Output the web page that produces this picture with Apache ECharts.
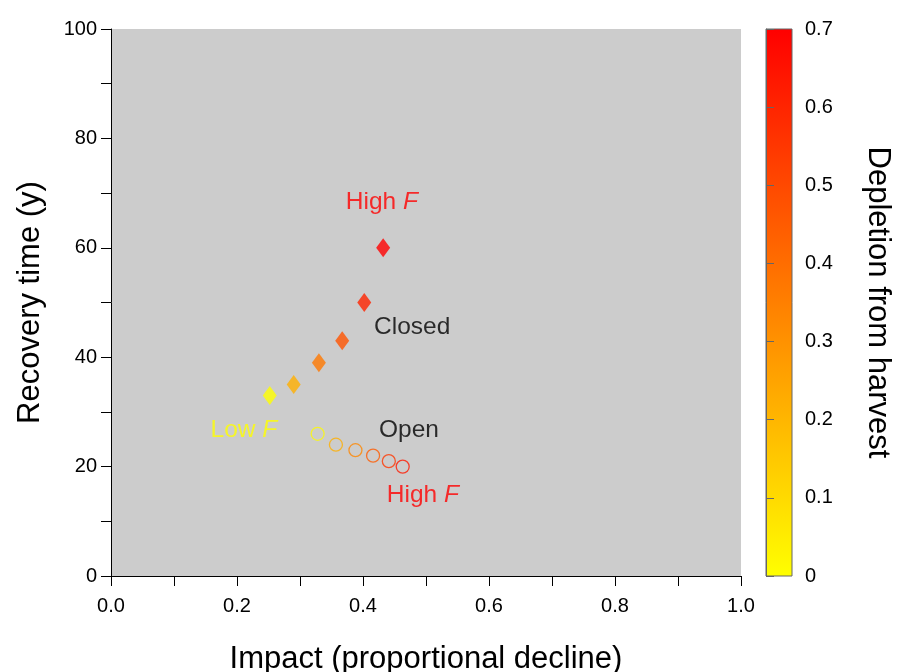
<!DOCTYPE html>
<html>
<head>
<meta charset="utf-8">
<title>Recovery time vs impact</title>
<script src="https://cdn.jsdelivr.net/npm/echarts@6/dist/echarts.min.js"></script>
<style>
  html, body { margin: 0; padding: 0; background: #ffffff; }
  #chart { width: 904px; height: 672px; }
</style>
</head>
<body>
<div id="chart"></div>
<script>
// Closed fishery: impact, recovery time and depletion along increasing F
const closedImpact    = [0.252, 0.290, 0.330, 0.367, 0.402, 0.432];
const closedRecovery  = [33, 35, 39, 43, 50, 60];
const closedDepletion = [0.00, 0.22, 0.37, 0.47, 0.60, 0.70];

// Open fishery
const openImpact    = [0.328, 0.357, 0.388, 0.416, 0.441, 0.463];
const openRecovery  = [26, 24, 23, 22, 21, 20];
const openDepletion = [0.01, 0.22, 0.33, 0.45, 0.55, 0.63];

// Axis ranges and ticks
const xTicks = [0, 0.2, 0.4, 0.6, 0.8, 1.0];
const yTicks = [0, 20, 40, 60, 80, 100];
const depletionTicks = [0, 0.1, 0.2, 0.3, 0.4, 0.5, 0.6, 0.7];
const depletionMax = 0.7;

// Text annotations: [x, y, plain text, italic text, colour]
const notes = [
  [0.430, 68.4, 'High ', 'F', '#ff0000'],
  [0.478, 45.5, 'Closed', '', '#000000'],
  [0.211, 26.7, 'Low ', 'F', '#ffff00'],
  [0.473, 26.7, 'Open', '', '#000000'],
  [0.495, 14.8, 'High ', 'F', '#ff0000']
];

const FONT = "'Liberation Sans', Arial, Helvetica, sans-serif";
const lowColor = '#ffff00';
const highColor = '#ff0000';

function depletionColor(v) {
  return echarts.color.lerp(Math.max(0, Math.min(1, v / depletionMax)), [lowColor, highColor]);
}

const closedData = closedImpact.map((x, i) => ({
  value: [x, closedRecovery[i]],
  itemStyle: { color: depletionColor(closedDepletion[i]) }
}));

const openData = openImpact.map((x, i) => ({
  value: [x, openRecovery[i]],
  itemStyle: {
    color: 'rgba(0,0,0,0)',
    borderColor: depletionColor(openDepletion[i]),
    borderWidth: 1.3
  }
}));

const noteData = notes.map(n => ({
  value: [n[0], n[1]],
  label: {
    formatter: n[3] ? '{n|' + n[2] + '}{i|' + n[3] + '}' : '{n|' + n[2] + '}',
    rich: {
      n: { color: n[4], fontSize: 24.5, fontFamily: FONT },
      i: { color: n[4], fontSize: 24.5, fontFamily: FONT, fontStyle: 'italic' }
    }
  }
}));

const tickFont = { fontSize: 20, color: '#000', fontFamily: FONT };
const titleFont = { fontSize: 31, color: '#000', fontFamily: FONT };

const chart = echarts.init(document.getElementById('chart'), null, { renderer: 'canvas' });

chart.setOption({
  animation: false,
  backgroundColor: '#ffffff',
  grid: [
    {
      left: 111, top: 29, width: 630, height: 547, show: true,
      backgroundColor: '#cccccc', borderWidth: 0, outerBoundsMode: 'none', containLabel: false
    },
    {
      left: 766, top: 29, width: 26, height: 547, show: true, borderWidth: 1, borderColor: '#666666',
      outerBoundsMode: 'none', containLabel: false,
      backgroundColor: {
        type: 'linear', x: 0, y: 0, x2: 0, y2: 1,
        colorStops: [{ offset: 0, color: highColor }, { offset: 1, color: lowColor }]
      }
    }
  ],
  xAxis: [
    {
      gridIndex: 0, type: 'value', min: 0, max: 1, interval: 0.1,
      name: 'Impact (proportional decline)', nameLocation: 'middle', nameGap: 68,
      nameTextStyle: titleFont,
      axisLine: { show: true, onZero: false, lineStyle: { color: '#000', width: 1 } },
      axisTick: { show: true, length: 10, lineStyle: { color: '#000' } },
      axisLabel: Object.assign({
        margin: 20,
        formatter: v => xTicks.some(t => Math.abs(t - v) < 1e-9) ? v.toFixed(1) : ''
      }, tickFont),
      splitLine: { show: false }
    },
    {
      gridIndex: 1, type: 'value', min: 0, max: 1, show: false
    }
  ],
  yAxis: [
    {
      gridIndex: 0, type: 'value', min: 0, max: 100, interval: 10,
      name: 'Recovery time (y)', nameLocation: 'middle', nameGap: 65, nameRotate: 90,
      nameTextStyle: titleFont,
      axisLine: { show: true, onZero: false, lineStyle: { color: '#000', width: 1 } },
      axisTick: { show: true, length: 10, lineStyle: { color: '#000' } },
      axisLabel: Object.assign({
        margin: 14,
        formatter: v => yTicks.indexOf(Math.round(v)) >= 0 && Math.abs(v - Math.round(v)) < 1e-9 ? String(v) : ''
      }, tickFont),
      splitLine: { show: false }
    },
    {
      gridIndex: 1, type: 'value', min: 0, max: depletionMax, interval: 0.1, position: 'right',
      name: 'Depletion from harvest', nameLocation: 'middle', nameGap: 70, nameRotate: -90,
      nameTextStyle: titleFont,
      axisLine: { show: true, lineStyle: { color: '#666666', width: 1 } },
      axisTick: { show: true, length: 8, lineStyle: { color: '#666666' } },
      axisLabel: Object.assign({
        margin: 13,
        formatter: v => {
          const k = depletionTicks.findIndex(t => Math.abs(t - v) < 1e-9);
          if (k < 0) return '';
          return depletionTicks[k] === 0 ? '0' : depletionTicks[k].toFixed(1);
        }
      }, tickFont),
      splitLine: { show: false }
    }
  ],
  series: [
    {
      name: 'Closed', type: 'scatter', xAxisIndex: 0, yAxisIndex: 0,
      symbol: 'diamond', symbolSize: [14, 19],
      data: closedData, z: 3
    },
    {
      name: 'Open', type: 'scatter', xAxisIndex: 0, yAxisIndex: 0,
      symbol: 'circle', symbolSize: 13,
      data: openData, z: 3
    },
    {
      name: 'Notes', type: 'scatter', xAxisIndex: 0, yAxisIndex: 0,
      symbolSize: 0, silent: true, z: 4,
      label: { show: true, position: 'inside' },
      data: noteData
    }
  ]
});
</script>
</body>
</html>
